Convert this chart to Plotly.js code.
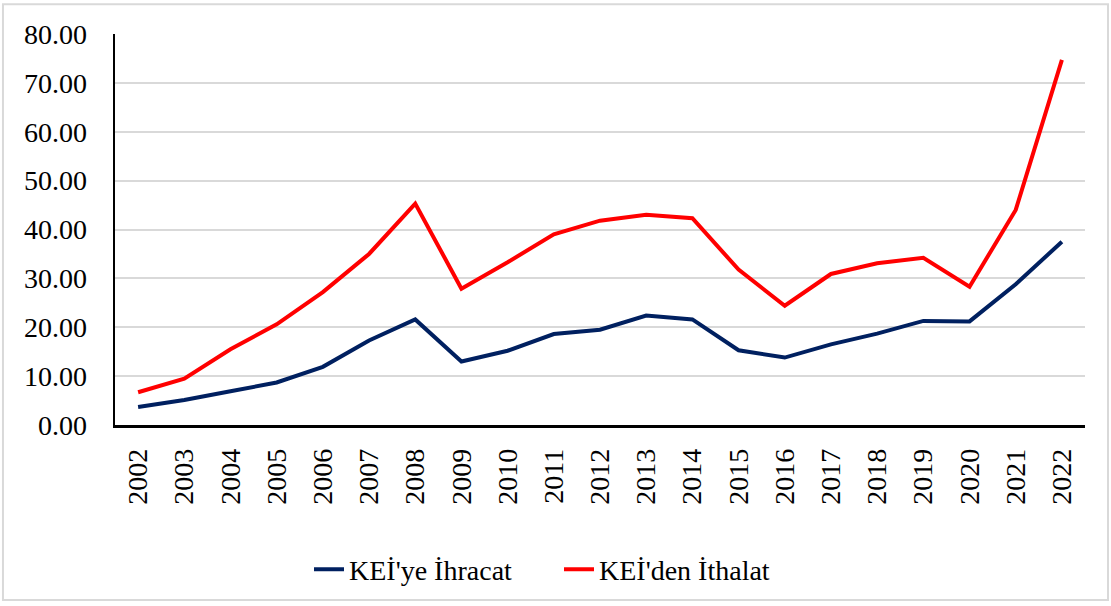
<!DOCTYPE html>
<html>
<head>
<meta charset="utf-8">
<script src="https://cdn.plot.ly/plotly-3.0.1.min.js"></script>
<style>html,body{margin:0;padding:0;background:#fff;}#chart{width:1111px;height:606px;}</style>
</head>
<body>
<div id="chart"></div>
<script>
const years = ["2002","2003","2004","2005","2006","2007","2008","2009","2010","2011","2012","2013","2014","2015","2016","2017","2018","2019","2020","2021","2022"];
const ihracat = [3.7, 5.1, 6.9, 8.7, 11.9, 17.3, 21.6, 13.0, 15.2, 18.6, 19.5, 22.4, 21.6, 15.3, 13.8, 16.5, 18.7, 21.3, 21.2, 28.8, 37.5];
const ithalat = [6.7, 9.5, 15.5, 20.6, 27.2, 35.0, 45.3, 27.9, 33.3, 39.0, 41.8, 43.0, 42.3, 31.8, 24.4, 30.9, 33.1, 34.2, 28.3, 44.0, 74.7];
const names = ["KEİ'ye İhracat", "KEİ'den İthalat"];

const font = {family: '"Liberation Serif", "Times New Roman", serif', size: 28, color: '#000'};
const traces = [
  {x: years, y: ihracat, name: names[0], type: 'scatter', mode: 'lines', line: {color: '#002060', width: 4}},
  {x: years, y: ithalat, name: names[1], type: 'scatter', mode: 'lines', line: {color: '#ff0000', width: 4}}
];
const layout = {
  width: 1111, height: 606,
  margin: {l: 115, r: 26, t: 34, b: 179},
  paper_bgcolor: '#fff', plot_bgcolor: '#fff',
  font: font,
  showlegend: true,
  legend: {orientation: 'h', x: 0.2, xanchor: 'left', y: -0.37, yanchor: 'middle', font: font, entrywidth: 205, entrywidthmode: 'pixels'},
  xaxis: {type: 'category', range: [-0.5, 20.5], tickangle: -90, showgrid: false, showline: true, linecolor: '#000', linewidth: 2.5, ticks: '', tickfont: font, zeroline: false, fixedrange: true, ticklabelstandoff: 10},
  yaxis: {range: [0, 80], dtick: 10, tickformat: '.2f', showgrid: true, gridcolor: '#d9d9d9', gridwidth: 2, showline: true, linecolor: '#000', linewidth: 2.5, ticks: '', ticklen: 0, tickfont: font, zeroline: false, fixedrange: true, ticklabelstandoff: 20},
  shapes: [
    {type: 'rect', xref: 'paper', yref: 'paper', x0: -0.1155, x1: 1.0237, y0: -0.4478, y1: 1.0763, line: {color: '#d9d9d9', width: 2}, layer: 'below'}
  ]
};
Plotly.newPlot('chart', traces, layout, {displayModeBar: false, staticPlot: true});
</script>
</body>
</html>
